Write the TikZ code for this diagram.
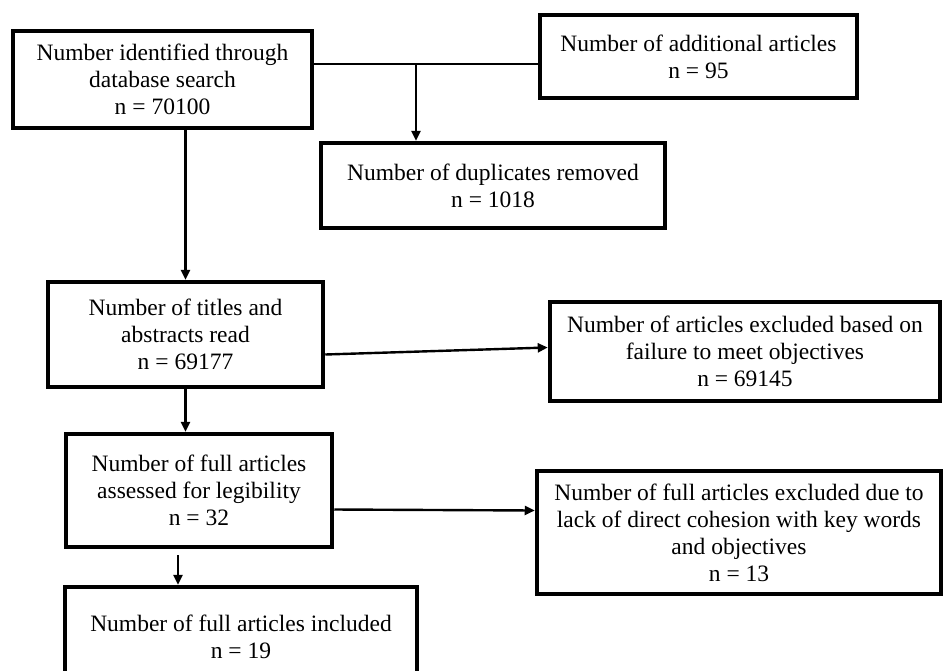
\documentclass[tikz,border=0pt]{standalone}
\usepackage{fontspec}
\setmainfont{Liberation Serif}
\usetikzlibrary{arrows.meta,positioning}
\begin{document}
\begin{tikzpicture}[x=1pt,y=-1pt]
\tikzstyle{every node}+=[inner sep=0pt]
\tikzstyle{box}=[draw=black,line width=4.5pt,align=center,font=\fontsize{23.5}{27}\selectfont]
\tikzstyle{link}=[black,line width=2.4pt,-{Triangle[length=10pt,width=9pt]}]
\fill [white] (0,0) rectangle (943,670);
\useasboundingbox (0,0) rectangle (943,670);
\node [box,minimum width=299pt,minimum height=97pt] (ident) at (162.5,79.5) {Number identified through\\database search\\n = 70100};
\node [box,minimum width=317pt,minimum height=83pt] (addit) at (698.5,56.5) {Number of additional articles\\n = 95};
\node [box,minimum width=344pt,minimum height=85pt] (dupl) at (493,185.5) {Number of duplicates removed\\n = 1018};
\node [box,minimum width=275pt,minimum height=105pt] (titles) at (185.5,334.5) {Number of titles and\\abstracts read\\n = 69177};
\node [box,minimum width=390pt,minimum height=99pt] (exobj) at (745,351.5) {Number of articles excluded based on\\failure to meet objectives\\n = 69145};
\node [box,minimum width=266pt,minimum height=113pt] (full) at (199,490.5) {Number of full articles\\assessed for legibility\\n = 32};
\node [box,minimum width=404pt,minimum height=123pt] (excoh) at (739,532.5) {Number of full articles excluded due to\\lack of direct cohesion with key words\\and objectives\\n = 13};
\node [box,minimum width=352pt,minimum height=100pt] (incl) at (241,637) {Number of full articles included\\n = 19};
\coordinate (merge) at (416,64);
\draw [black,line width=2.4pt] (ident.east |- merge) -- (addit.west |- merge);
\draw [link] (merge) -- (dupl.north -| merge);
\draw [link] (ident.south -| titles.north) -- (titles.north);
\draw [link] ([yshift=-20pt]titles.east) -- ([yshift=4pt]exobj.west);
\draw [link] (titles.south) -- (full.north -| titles.south);
\draw [link] ([yshift=-19pt]full.east) -- ([yshift=22pt]excoh.west);
\draw [link] ([xshift=-21pt,yshift=-6pt]full.south) -- ([xshift=-21pt]full.south |- incl.north);
\end{tikzpicture}
\end{document}
